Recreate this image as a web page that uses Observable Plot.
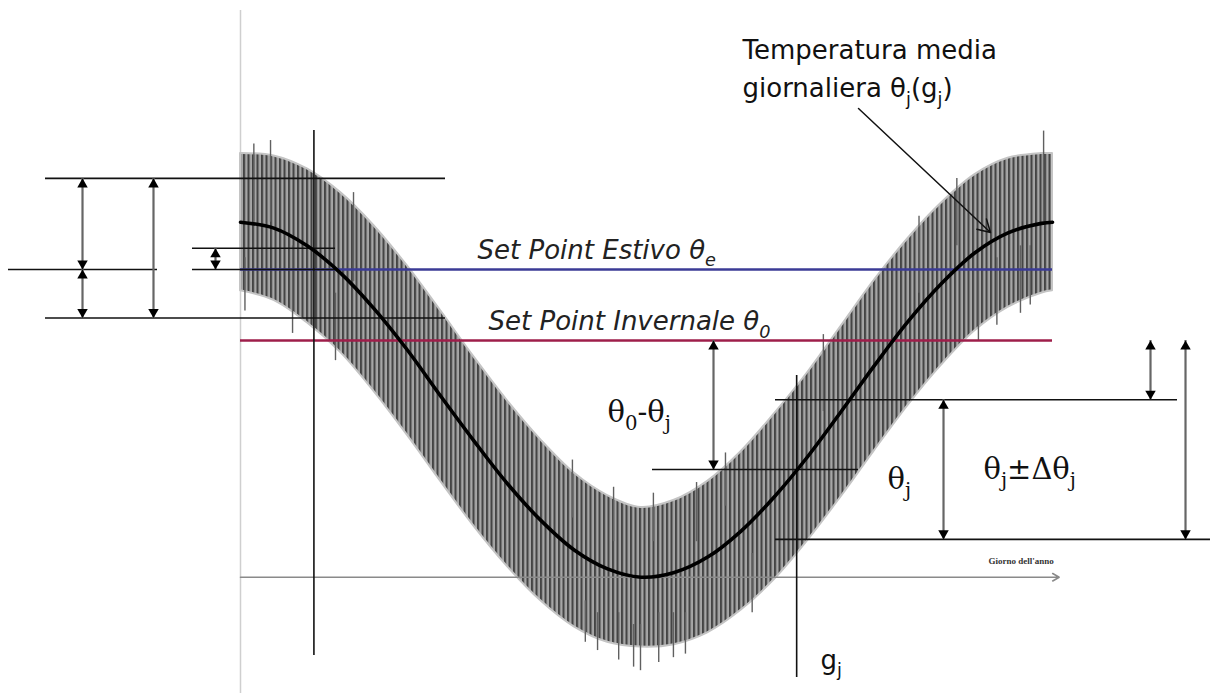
<!DOCTYPE html>
<html>
<head>
<meta charset="utf-8">
<script src="https://cdn.jsdelivr.net/npm/d3@7"></script>
<script src="https://cdn.jsdelivr.net/npm/@observablehq/plot@0.6"></script>
<style>
  html, body { margin: 0; padding: 0; background: #fff; }
  #chart svg { display: block; }
</style>
</head>
<body>
<div id="chart"></div>
<script>
// ---------- data (day of year, temperature °C) ----------
const days      = [0, 15, 30, 45, 60, 75, 90, 105, 120, 135, 150, 165, 180, 195, 210, 225, 240, 255, 270, 285, 300, 315, 330, 345, 360, 365];
const meanTemp  = [30, 29.5, 28.0, 25.7, 22.7, 19.2, 15.3, 11.5, 7.9, 4.8, 2.3, 0.7, 0.0, 0.4, 1.7, 3.9, 6.8, 10.2, 14.0, 17.9, 21.6, 24.8, 27.4, 29.1, 29.9, 30];
const upperTemp = [35.8, 35.6, 34.5, 32.5, 29.7, 26.3, 22.5, 18.6, 14.9, 11.6, 8.8, 6.9, 5.9, 6.5, 8.1, 10.6, 13.8, 17.3, 21.2, 25.1, 28.6, 31.6, 34.0, 35.4, 35.8, 35.8];
const lowerTemp = [24.2, 23.4, 21.5, 19.0, 15.7, 12.0, 8.1, 4.3, 0.9, -2.0, -4.2, -5.5, -5.9, -5.7, -4.7, -2.8, -0.2, 3.1, 6.8, 10.7, 14.5, 17.9, 20.8, 22.8, 24.0, 24.2];

// isolated daily spikes sticking out of the band
const spikeDays = [2, 6, 13.5, 23.4, 42.7, 50.8, 149.2, 155, 160.5, 167.7, 170, 176.7, 179.8, 185.6, 188, 194.6, 200, 205, 218, 230, 262, 305, 322.0, 331.7, 340, 350.6, 355, 361.0];
const spikeLow  = [22.5, 30.0, 30.0, 20.6, 18.3, 25.0, 5.0, -5.5, -6.2, 3.0, -7.0, -7.6, -7.9, 3.0, -7.2, -6.8, -6.5, 3.0, 6.0, -3.0, 14.0, 24.0, 28.0, 20.0, 21.3, 22.3, 23.0, 30.0];
const spikeHigh = [27.0, 36.6, 36.9, 28.0, 24.0, 32.5, 9.9, -2.0, -3.0, 7.6, -3.0, -4.0, -4.0, 7.1, -3.0, -3.0, -3.0, 8.0, 10.5, 2.0, 20.5, 30.5, 33.7, 26.0, 27.0, 28.0, 28.0, 37.7];

const thetaE = 26;      // Set Point Estivo
const theta0 = 20;      // Set Point Invernale
const gDays = [33, 250];        // sample days g_j
const thetaAtG = [27.8, 9.1];   // θ_j at those days
const deltaTheta = 5.9;         // Δθ_j

const labels = {
  title1: "Temperatura media",
  title2: "giornaliera θ_j(g_j)",
  estivo: "Set Point Estivo θ_e",
  invernale: "Set Point Invernale θ_0",
  diff: "θ_0-θ_j",
  thetaJ: "θ_j",
  band: "θ_j±Δθ_j",
  g: "g_j",
  axis: "Giorno dell'anno"
};

// ---------- derived tables ----------
const band = days.map((d, i) => ({day: d, mean: meanTemp[i], upper: upperTemp[i], lower: lowerTemp[i]}));
const spikes = spikeDays.map((d, i) => ({day: d, lo: spikeLow[i], hi: spikeHigh[i]}));

const hiL = thetaAtG[0] + deltaTheta, loL = thetaAtG[0] - deltaTheta;
const hiR = thetaAtG[1] + deltaTheta, loR = thetaAtG[1] - deltaTheta;

const blackSegments = [
  {y: hiL, x1: -87.65, x2: 92.15},
  {y: loL, x1: -87.65, x2: 92.15},
  {y: thetaE, x1: -104.29, x2: -37.31},
  {y: thetaAtG[0], x1: -21.58, x2: 42.70},
  {y: thetaE, x1: -21.58, x2: 42.70},
  {y: hiR, x1: 240.49, x2: 421.19},
  {y: thetaAtG[1], x1: 185.2, x2: 277.8},
  {y: loR, x1: 240.49, x2: 436.02}
];
const setPointLines = [
  {y: thetaE, x1: 0, x2: 365, c: "#3b3b96"},
  {y: theta0, x1: 0, x2: 365, c: "#9e1e4a"}
];
const gLines = [
  {x: gDays[0], y1: 37.75, y2: -6.62},
  {x: gDays[1], y1: 17.04, y2: -8.48}
];
const dblArrows = [
  {x: -71.02, top: hiL, bottom: thetaE},
  {x: -71.02, top: thetaE, bottom: loL},
  {x: -39.11, top: hiL, bottom: loL},
  {x: -11.24, top: thetaAtG[0], bottom: thetaE},
  {x: 212.62, top: theta0, bottom: thetaAtG[1]},
  {x: 316.01, top: hiR, bottom: loR},
  {x: 409.05, top: theta0, bottom: hiR},
  {x: 424.79, top: theta0, bottom: loR}
];
const pointer = [{x1: 277.8, y1: 39.61, x2: 337.13, y2: 29.13}];

const sansTexts = [
  {x: 225.65, y: 43.75, t: labels.title1},
  {x: 225.65, y: 40.54, t: labels.title2},
  {x: 260.72, y: -7.72, t: labels.g}
];
const italicTexts = [
  {x: 106.53, y: 26.93, t: labels.estivo},
  {x: 111.48, y: 20.85, t: labels.invernale}
];
const serifTexts = [
  {x: 164.97, y: 13.15, t: labels.diff},
  {x: 290.83, y: 7.49, t: labels.thetaJ},
  {x: 333.99, y: 8.34, t: labels.band}
];

// ---------- plot ----------
const plot = Plot.plot({
  width: 1211,
  height: 693,
  margin: 0,
  style: {background: "#fff"},
  x: {domain: [0, 365], range: [240, 1052], axis: null},
  y: {domain: [0, 30], range: [576.7, 221.7], axis: null},
  marks: [
    Plot.ruleX([0], {y1: 47.89, y2: -9.83, stroke: "#cfcfcf", strokeWidth: 1.5}),
    Plot.areaY(band, {x: "day", y1: "lower", y2: "upper", fill: "url(#hatch)", stroke: "#c4c4c4", strokeWidth: 2, curve: "catmull-rom"}),
    Plot.ruleX(spikes, {x: "day", y1: "lo", y2: "hi", stroke: "#606060", strokeWidth: 1.4}),
    Plot.arrow([{x1: 0, x2: 368, y: 0}], {x1: "x1", x2: "x2", y1: "y", y2: "y", stroke: "#8a8a8a", strokeWidth: 1.6, headLength: 7}),
    Plot.text([labels.axis], {x: 336.2, y: 1.15, text: d => d, textAnchor: "start", lineAnchor: "bottom", fontFamily: "Liberation Serif", fontSize: 9, fontWeight: "bold", fill: "#333"}),
    Plot.ruleY(setPointLines, {y: "y", x1: "x1", x2: "x2", stroke: "c", strokeWidth: 2.4}),
    Plot.ruleY(blackSegments, {y: "y", x1: "x1", x2: "x2", stroke: "#111", strokeWidth: 1.6}),
    Plot.ruleX(gLines, {x: "x", y1: "y1", y2: "y2", stroke: "#111", strokeWidth: 1.6}),
    Plot.line(band, {x: "day", y: "mean", stroke: "#000", strokeWidth: 3.6, curve: "catmull-rom"}),
    Plot.ruleX(dblArrows, {x: "x", y1: "top", y2: "bottom", stroke: "#666", strokeWidth: 2.2}),
    Plot.dot(dblArrows, {x: "x", y: "top", symbol: "triangle2", r: 5, fill: "#000", stroke: "none", dy: 6}),
    Plot.dot(dblArrows, {x: "x", y: "bottom", symbol: "triangle2", r: 5, fill: "#000", stroke: "none", rotate: 180, dy: -6}),
    Plot.arrow(pointer, {x1: "x1", y1: "y1", x2: "x2", y2: "y2", stroke: "#111", strokeWidth: 1.5, headLength: 14}),
    Plot.text(sansTexts, {x: "x", y: "y", text: "t", textAnchor: "start", lineAnchor: "bottom", fontFamily: "DejaVu Sans", fontSize: 26, fill: "#111"}),
    Plot.text(italicTexts, {x: "x", y: "y", text: "t", textAnchor: "start", lineAnchor: "bottom", fontFamily: "DejaVu Sans", fontStyle: "italic", fontSize: 26, fill: "#222"}),
    Plot.text(serifTexts, {x: "x", y: "y", text: "t", textAnchor: "start", lineAnchor: "bottom", fontFamily: "DejaVu Serif", fontSize: 29, fill: "#111"})
  ]
});

// hatch pattern for the band of daily values
const NS = "http://www.w3.org/2000/svg";
const defs = document.createElementNS(NS, "defs");
defs.innerHTML = '<pattern id="hatch" patternUnits="userSpaceOnUse" width="4.5" height="20">' +
  '<rect width="4.5" height="20" fill="#a6a6a6"/><rect width="2.1" height="20" fill="#444444"/></pattern>';
plot.insertBefore(defs, plot.firstChild);

document.getElementById("chart").appendChild(plot);

// subscripts: "θ_j" -> θ with subscript j
plot.querySelectorAll("text").forEach(t => {
  const s = t.textContent;
  if (!s.includes("_")) return;
  const fs = parseFloat(getComputedStyle(t).fontSize) || 20;
  const shift = fs * 0.3;
  t.textContent = "";
  const parts = s.split(/_(.)/);
  let down = false;
  parts.forEach((p, i) => {
    if (!p) return;
    const sp = document.createElementNS(NS, "tspan");
    sp.textContent = p;
    if (i % 2 === 1) {
      sp.setAttribute("dy", shift);
      sp.setAttribute("font-size", (fs * 0.68).toFixed(1));
      down = true;
    } else if (down) {
      sp.setAttribute("dy", -shift);
      down = false;
    }
    t.appendChild(sp);
  });
});
</script>
</body>
</html>
